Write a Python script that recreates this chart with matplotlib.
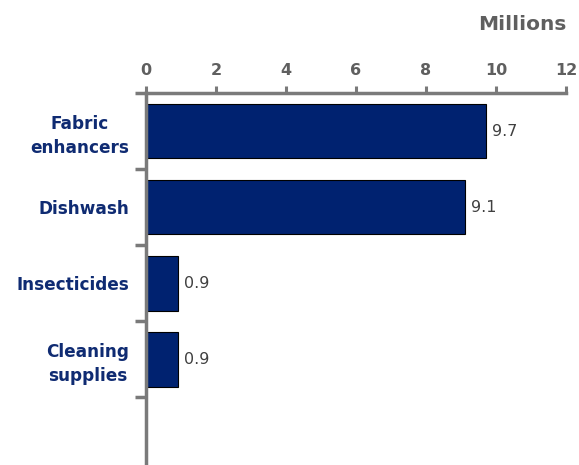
import matplotlib.pyplot as plt

categories = ["Fabric\nenhancers", "Dishwash", "Insecticides", "Cleaning\nsupplies"]
values = [9.7, 9.1, 0.9, 0.9]
xticks = [0, 2, 4, 6, 8, 10, 12]

navy = "#002270"
label_blue = "#0f2b72"
axis_gray = "#7a7a7a"
text_gray = "#5f5f5f"

plt.rcParams['font.family'] = ['DejaVu Sans']

fig = plt.figure(figsize=(5.79, 4.65), dpi=100)
ax = fig.add_axes([146 / 579, 0.0, 420 / 579, 1 - 93 / 465])

pos = list(range(len(categories)))
ax.barh(pos, values, height=0.72, color=navy, edgecolor="black", linewidth=0.8, zorder=2)

for y, v in zip(pos, values):
    ax.text(v + 0.18, y, f"{v:.1f}", va="center", ha="left", fontsize=11.5, color="#404040")

ax.set_xlim(0, 12)
ax.set_ylim(4.39, -0.5)

ax.xaxis.tick_top()
ax.set_xticks(xticks)
ax.set_xticklabels([str(t) for t in xticks], fontsize=11.5, fontweight="bold", color=text_gray)
ax.tick_params(axis="x", which="major", direction="out", length=5, width=2.2, color=axis_gray, pad=6)

# category slot boundaries as left-side ticks, labels at slot centres
ax.set_yticks([p - 0.5 for p in range(len(categories) + 1)])
ax.set_yticklabels([])
ax.tick_params(axis="y", which="major", direction="out", length=8, width=2.5, color=axis_gray)
ax.set_yticks(pos, minor=True)
ax.set_yticklabels(categories, minor=True, fontsize=12.2, fontweight="bold", color=label_blue,
                   ha="right", multialignment="center", linespacing=1.4)
ax.tick_params(axis="y", which="minor", length=0, pad=12)

for s in ["right", "bottom"]:
    ax.spines[s].set_visible(False)
for s in ["top", "left"]:
    ax.spines[s].set_color(axis_gray)
    ax.spines[s].set_linewidth(2.5)

fig.text(566 / 579, 1 - 25 / 465, "Millions", ha="right", va="center",
         fontsize=14.5, fontweight="bold", color=text_gray)

fig.savefig("out.png", dpi=100)
